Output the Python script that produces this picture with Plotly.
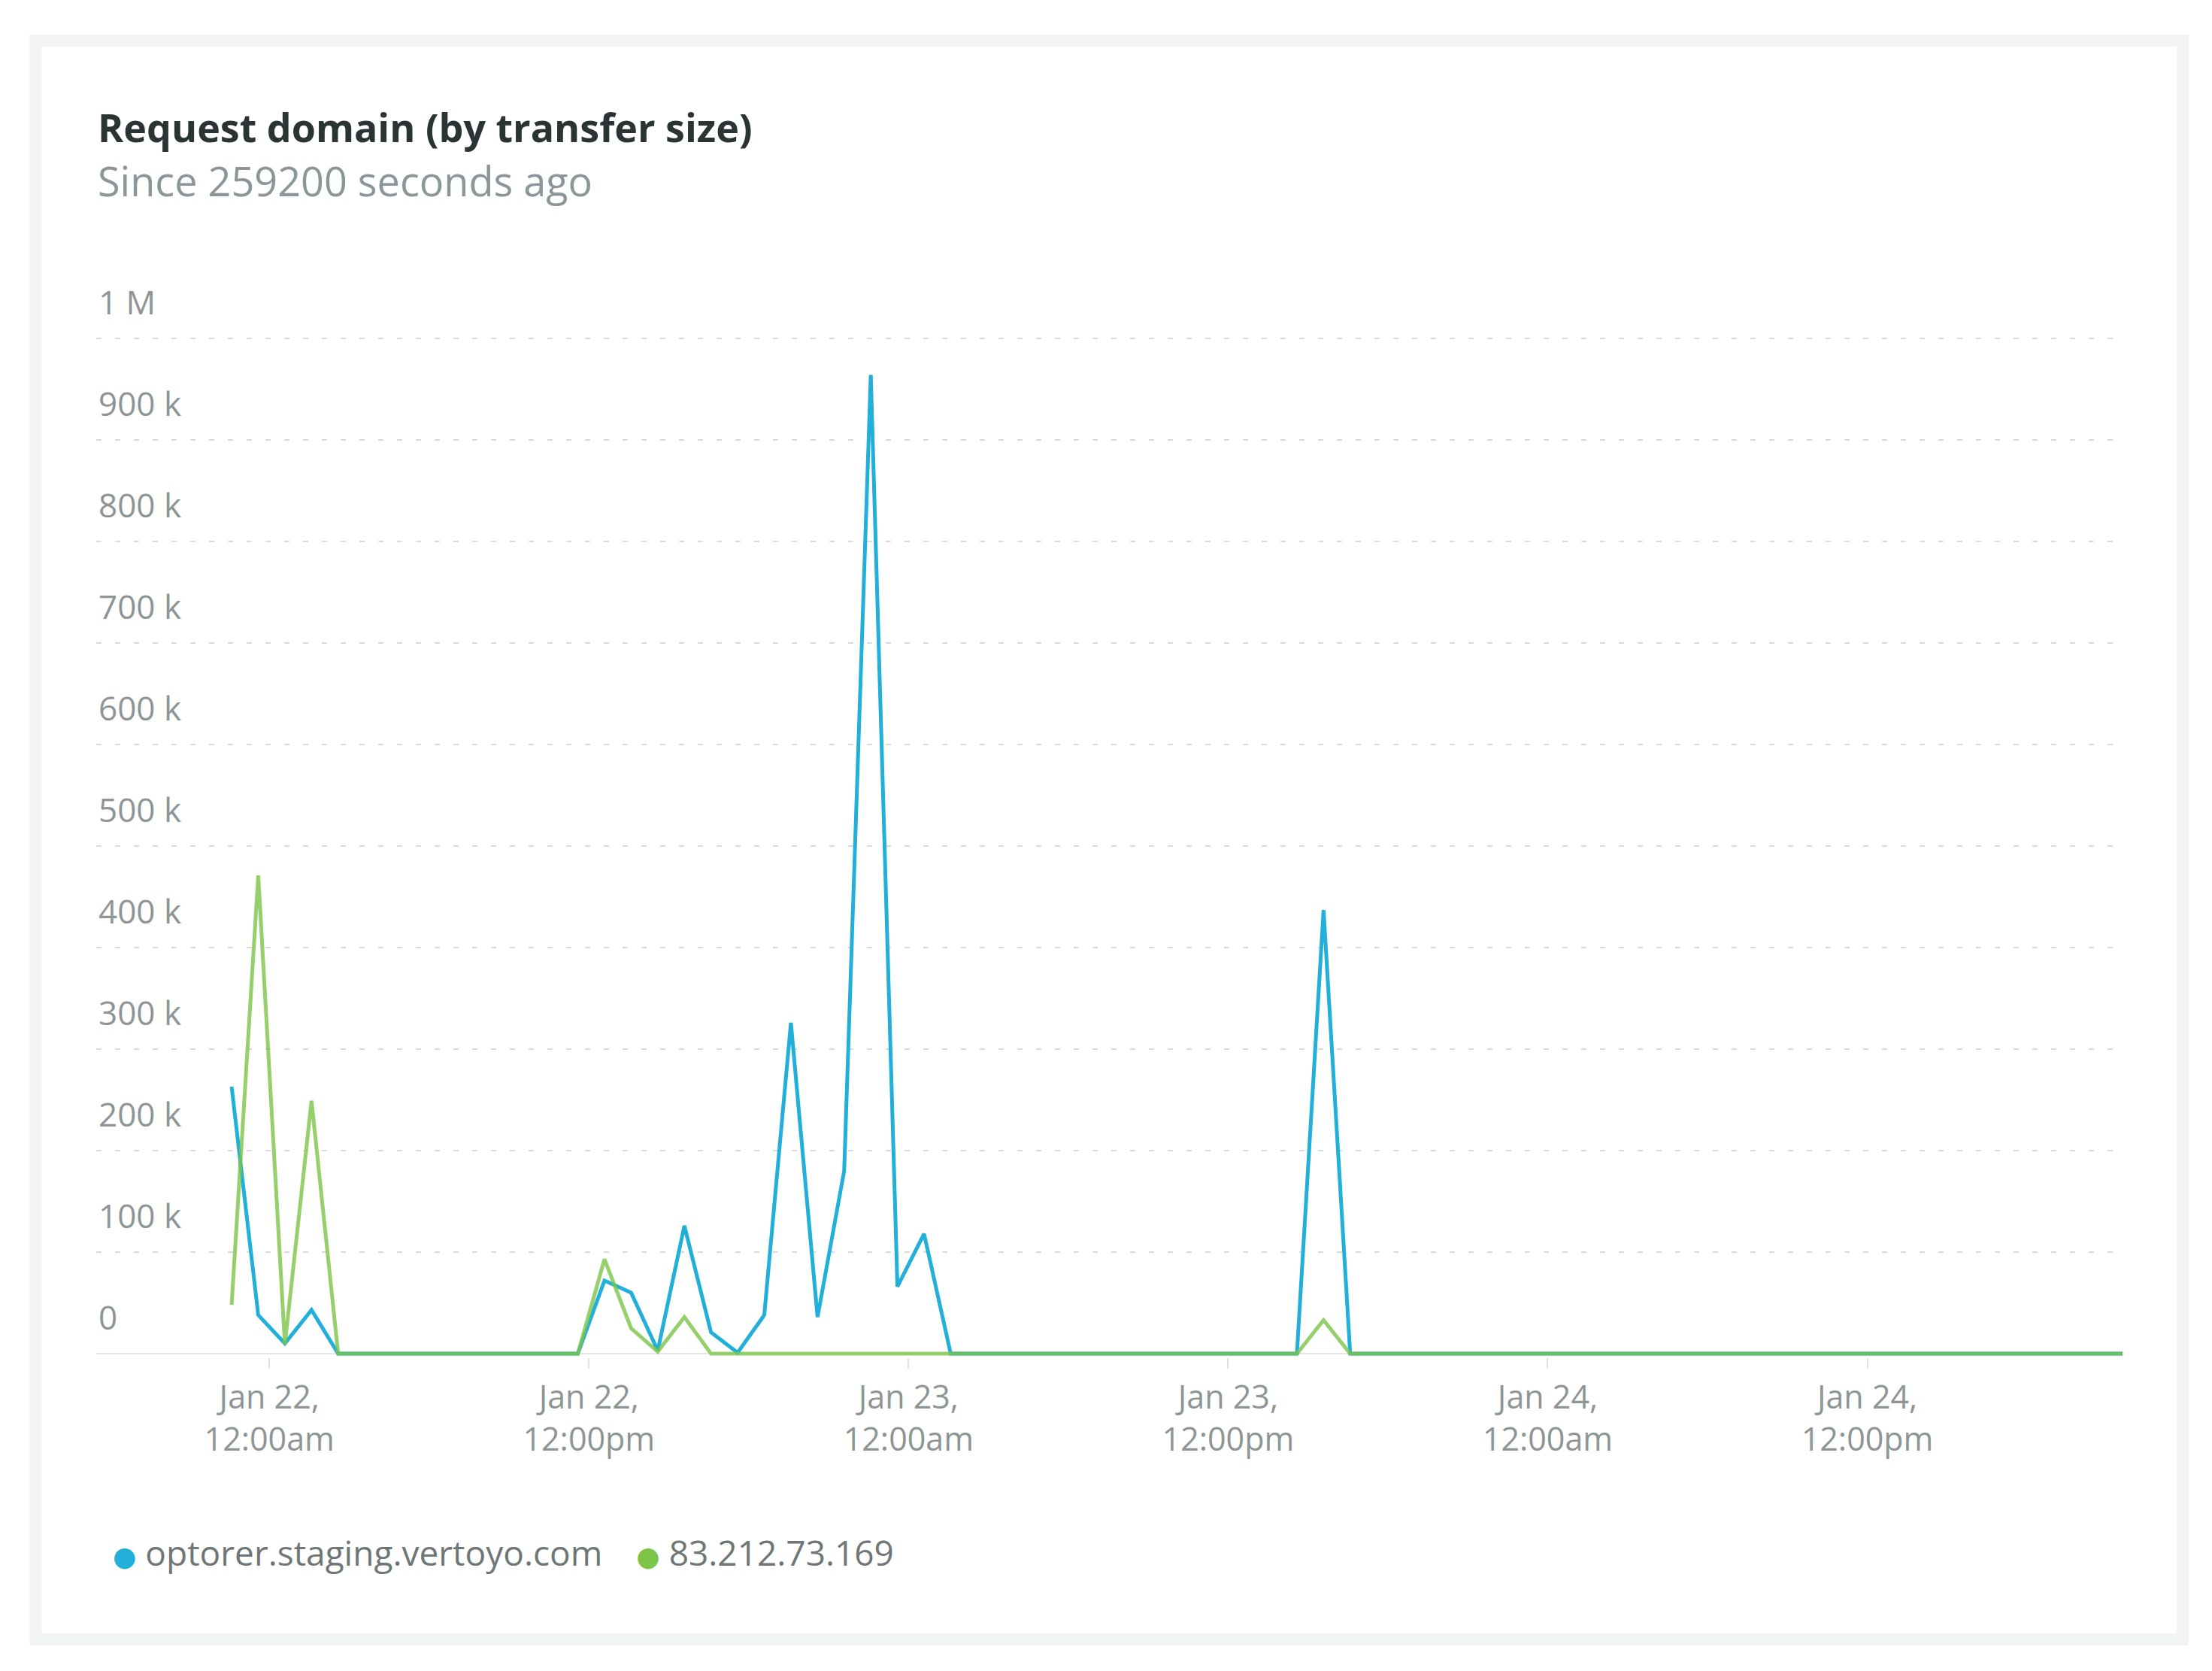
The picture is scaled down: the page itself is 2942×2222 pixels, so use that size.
import pandas as pd
import plotly.graph_objects as go

# ---------------- data ----------------
start_time = "2020-01-21 22:35"
n_points = 72

series_names = ["optorer.staging.vertoyo.com", "83.212.73.169"]

blue_values = [
    263000, 38000, 10000, 43000, 0, 0, 0, 0, 0, 0, 0, 0,
    0, 0, 72000, 60000, 3000, 126000, 21000, 1000, 38000, 326000, 36000, 180000,
    964000, 66000, 118000, 0, 0, 0, 0, 0, 0, 0, 0, 0,
    0, 0, 0, 0, 0, 437000, 0, 0, 0, 0, 0, 0,
    0, 0, 0, 0, 0, 0, 0, 0, 0, 0, 0, 0,
    0, 0, 0, 0, 0, 0, 0, 0, 0, 0, 0, 0,
]

green_values = [
    48000, 471000, 9000, 249000, 0, 0, 0, 0, 0, 0, 0, 0,
    0, 0, 93000, 25000, 2000, 36000, 0, 0, 0, 0, 0, 0,
    0, 0, 0, 0, 0, 0, 0, 0, 0, 0, 0, 0,
    0, 0, 0, 0, 0, 33000, 0, 0, 0, 0, 0, 0,
    0, 0, 0, 0, 0, 0, 0, 0, 0, 0, 0, 0,
    0, 0, 0, 0, 0, 0, 0, 0, 0, 0, 0, 0,
]

x_tick_values = ["2020-01-22 00:00", "2020-01-22 12:00", "2020-01-23 00:00",
                 "2020-01-23 12:00", "2020-01-24 00:00", "2020-01-24 12:00"]
x_tick_labels = ["Jan 22,<br>12:00am", "Jan 22,<br>12:00pm", "Jan 23,<br>12:00am",
                 "Jan 23,<br>12:00pm", "Jan 24,<br>12:00am", "Jan 24,<br>12:00pm"]

y_tick_values = [0, 100000, 200000, 300000, 400000, 500000, 600000, 700000, 800000, 900000, 1000000]
y_tick_labels = ["0", "100 k", "200 k", "300 k", "400 k", "500 k", "600 k", "700 k", "800 k", "900 k", "1 M"]

times = pd.date_range(start=start_time, periods=n_points, freq="h")

# ---------------- style ----------------
W, H = 2942, 2222
ML, MR, MT, MB = 128, 119, 360, 417
plot_w = W - ML - MR
plot_h = H - MT - MB
Y_MIN = -3700
Y_MAX = Y_MIN + plot_h / 1.35 * 1000  # 1.35 px per 1000

BLUE = "#22b0da"
GREEN = "#7cc549"
FONT = "Open Sans"


def px_to_paper_x(px):
    return (px - ML) / plot_w


def px_to_paper_y(py):
    return (H - MB - py) / plot_h


fig = go.Figure()

fig.add_trace(go.Scatter(
    x=times, y=blue_values, mode="lines", name=series_names[0],
    line=dict(color=BLUE, width=5), showlegend=False,
))
fig.add_trace(go.Scatter(
    x=times, y=green_values, mode="lines", name=series_names[1],
    line=dict(color=GREEN, width=5), opacity=0.8, showlegend=False,
))

# legend entries: coloured dot glyph + label
for name, col in zip(series_names, [BLUE, GREEN]):
    fig.add_trace(go.Scatter(
        x=[None], y=[None], mode="markers",
        name=(f"<span style=\"color:{col};font-family:'DejaVu Sans';font-size:36px\">"
              f"\u25CF</span> {name}"),
        marker=dict(color="rgba(0,0,0,0)", size=2),
    ))

fig.update_layout(
    width=W, height=H,
    margin=dict(l=ML, r=MR, t=MT, b=MB, pad=0),
    paper_bgcolor="white",
    plot_bgcolor="white",
    font=dict(family=FONT, color="#8d9595"),
    showlegend=True,
    legend=dict(
        orientation="h",
        x=px_to_paper_x(110), xanchor="left",
        y=px_to_paper_y(2064), yanchor="middle",
        font=dict(family=FONT, size=46, color="#6e7676"),
        bgcolor="rgba(0,0,0,0)",
    ),
    xaxis=dict(
        type="date",
        range=["2020-01-21 17:30", times[-1]],
        tickmode="array",
        tickvals=x_tick_values,
        ticktext=x_tick_labels,
        showgrid=False,
        zeroline=False,
        showline=False,
        ticks="outside",
        ticklen=14,
        tickwidth=2,
        tickcolor="#dfe3e3",
        tickfont=dict(family=FONT, size=43, color="#8d9595"),
        ticklabelstandoff=1,
    ),
    yaxis=dict(
        range=[Y_MIN, Y_MAX],
        tickmode="array",
        tickvals=y_tick_values,
        ticktext=y_tick_labels,
        showgrid=True,
        gridcolor="#d7dbdb",
        gridwidth=2,
        griddash="7px,18px",
        zeroline=True,
        zerolinecolor="#e3e7e7",
        zerolinewidth=2,
        showline=False,
        ticks="",
        ticklabelposition="inside top",
        ticklabelshift=-17,
        tickfont=dict(family=FONT, size=44, color="#8d9595"),
    ),
    shapes=[dict(
        type="rect", xref="paper", yref="paper", layer="below",
        x0=px_to_paper_x(47.5), x1=px_to_paper_x(2903),
        y0=px_to_paper_y(2180), y1=px_to_paper_y(54),
        line=dict(color="#f2f4f4", width=16),
        fillcolor="rgba(0,0,0,0)",
    )],
    annotations=[
        dict(
            text="Request domain (by transfer size)",
            xref="paper", yref="paper",
            x=px_to_paper_x(128), y=px_to_paper_y(169),
            xanchor="left", yanchor="middle", showarrow=False,
            font=dict(family=FONT, size=52, color="#2b3434", weight=700),
        ),
        dict(
            text="Since 259200 seconds ago",
            xref="paper", yref="paper",
            x=px_to_paper_x(128), y=px_to_paper_y(240),
            xanchor="left", yanchor="middle", showarrow=False,
            font=dict(family=FONT, size=54, color="#8a9699"),
        ),
    ],
)

fig.write_html(
    "out.html",
    config={"displayModeBar": False},
    post_script="document.body.style.margin='0';document.body.style.overflow='hidden';",
)
